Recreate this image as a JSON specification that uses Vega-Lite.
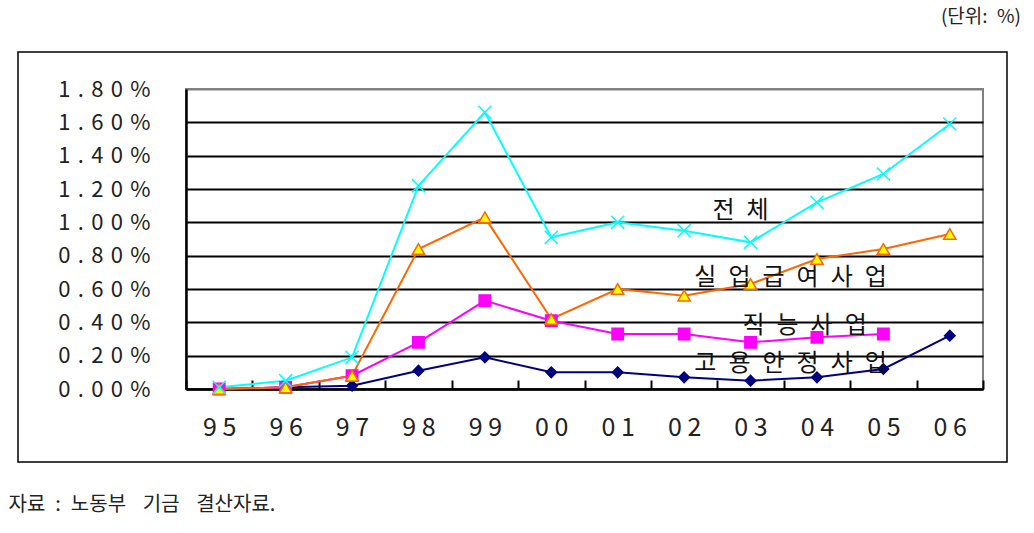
{
  "$schema": "https://vega.github.io/schema/vega-lite/v6.json",
  "width": 797,
  "height": 300,
  "autosize": {"type": "none"},
  "padding": {"left": 186, "top": 89, "right": 51, "bottom": 144},
  "background": "white",
  "config": {
    "view": {"stroke": "#808080", "strokeWidth": 2},
    "font": "Noto Sans CJK KR"
  },
  "title": {
    "text": "(단위:\u2002%)",
    "anchor": "end",
    "frame": "group",
    "fontSize": 19,
    "fontWeight": "normal",
    "color": "#222222",
    "dx": 38,
    "offset": 15,
    "baseline": "middle"
  },
  "data": {
    "values": [
      {"year": "95", "series": "고용안정사업", "value": 0.00},
      {"year": "96", "series": "고용안정사업", "value": 0.01},
      {"year": "97", "series": "고용안정사업", "value": 0.02},
      {"year": "98", "series": "고용안정사업", "value": 0.11},
      {"year": "99", "series": "고용안정사업", "value": 0.19},
      {"year": "00", "series": "고용안정사업", "value": 0.10},
      {"year": "01", "series": "고용안정사업", "value": 0.10},
      {"year": "02", "series": "고용안정사업", "value": 0.07},
      {"year": "03", "series": "고용안정사업", "value": 0.05},
      {"year": "04", "series": "고용안정사업", "value": 0.07},
      {"year": "05", "series": "고용안정사업", "value": 0.12},
      {"year": "06", "series": "고용안정사업", "value": 0.32},
      {"year": "95", "series": "직능사업", "value": 0.00},
      {"year": "96", "series": "직능사업", "value": 0.01},
      {"year": "97", "series": "직능사업", "value": 0.08},
      {"year": "98", "series": "직능사업", "value": 0.28},
      {"year": "99", "series": "직능사업", "value": 0.53},
      {"year": "00", "series": "직능사업", "value": 0.41},
      {"year": "01", "series": "직능사업", "value": 0.33},
      {"year": "02", "series": "직능사업", "value": 0.33},
      {"year": "03", "series": "직능사업", "value": 0.28},
      {"year": "04", "series": "직능사업", "value": 0.31},
      {"year": "05", "series": "직능사업", "value": 0.33},
      {"year": "95", "series": "실업급여사업", "value": 0.00},
      {"year": "96", "series": "실업급여사업", "value": 0.01},
      {"year": "97", "series": "실업급여사업", "value": 0.08},
      {"year": "98", "series": "실업급여사업", "value": 0.84},
      {"year": "99", "series": "실업급여사업", "value": 1.03},
      {"year": "00", "series": "실업급여사업", "value": 0.42},
      {"year": "01", "series": "실업급여사업", "value": 0.60},
      {"year": "02", "series": "실업급여사업", "value": 0.56},
      {"year": "03", "series": "실업급여사업", "value": 0.63},
      {"year": "04", "series": "실업급여사업", "value": 0.78},
      {"year": "05", "series": "실업급여사업", "value": 0.84},
      {"year": "06", "series": "실업급여사업", "value": 0.93},
      {"year": "95", "series": "전체", "value": 0.01},
      {"year": "96", "series": "전체", "value": 0.05},
      {"year": "97", "series": "전체", "value": 0.19},
      {"year": "98", "series": "전체", "value": 1.22},
      {"year": "99", "series": "전체", "value": 1.66},
      {"year": "00", "series": "전체", "value": 0.91},
      {"year": "01", "series": "전체", "value": 1.00},
      {"year": "02", "series": "전체", "value": 0.95},
      {"year": "03", "series": "전체", "value": 0.88},
      {"year": "04", "series": "전체", "value": 1.12},
      {"year": "05", "series": "전체", "value": 1.29},
      {"year": "06", "series": "전체", "value": 1.59}
    ]
  },
  "encoding": {
    "x": {
      "field": "year",
      "type": "ordinal",
      "scale": {
        "type": "band",
        "domain": ["95", "96", "97", "98", "99", "00", "01", "02", "03", "04", "05", "06"],
        "paddingInner": 0,
        "paddingOuter": 0
      },
      "axis": {
        "title": "자료\u2002:\u2002노동부\u2002\u2004기금\u2002\u2004결산자료.",
        "titleAnchor": "start",
        "titleAlign": "left",
        "titleX": -178,
        "titleY": 115,
        "titleBaseline": "middle",
        "titleFontSize": 20,
        "titleFontWeight": "normal",
        "titleColor": "#222222",
        "labelAngle": 0,
        "labelFontSize": 25,
        "labelColor": "#222222",
        "labelPadding": 35,
        "labelExpr": "join(split(datum.label,''),' ')",
        "tickBand": "extent",
        "tickSize": -9,
        "tickWidth": 2,
        "tickColor": "black",
        "domainColor": "black",
        "domainWidth": 2.5,
        "grid": false
      }
    },
    "y": {
      "field": "value",
      "type": "quantitative",
      "scale": {"domain": [0, 1.8]},
      "axis": {
        "title": null,
        "values": [0, 0.2, 0.4, 0.6, 0.8, 1.0, 1.2, 1.4, 1.6, 1.8],
        "labelExpr": "join(split(format(datum.value,'.2f')+'%',''),'\u2004')",
        "labelFontSize": 22,
        "labelColor": "#222222",
        "labelPadding": 36,
        "ticks": false,
        "domainColor": "black",
        "domainWidth": 2.5,
        "grid": true,
        "gridColor": {"condition": {"test": "datum.value >= 1.79", "value": "#808080"}, "value": "black"},
        "gridWidth": 1.8
      }
    }
  },
  "layer": [
    {
      "data": {"values": [{"box": "frame"}]},
      "mark": {"type": "rect", "fill": null, "stroke": "black", "strokeWidth": 1.5},
      "encoding": {
        "x": {"value": -168},
        "x2": {"value": 821},
        "y": {"value": -37},
        "y2": {"value": 373}
      }
    },
    {
      "mark": {"type": "line", "strokeWidth": 2},
      "encoding": {
        "stroke": {
          "field": "series",
          "type": "nominal",
          "scale": {
            "domain": ["고용안정사업", "직능사업", "실업급여사업", "전체"],
            "range": ["#000080", "#FF00FF", "#FF6600", "#00FFFF"]
          },
          "legend": null
        }
      }
    },
    {
      "mark": {"type": "point", "filled": true, "strokeWidth": 1.5, "opacity": 1},
      "encoding": {
        "shape": {
          "field": "series",
          "type": "nominal",
          "scale": {
            "domain": ["고용안정사업", "직능사업", "실업급여사업", "전체"],
            "range": ["diamond", "square", "triangle-up", "M-1,-1L1,1M-1,1L1,-1"]
          },
          "legend": null
        },
        "fill": {
          "field": "series",
          "type": "nominal",
          "scale": {
            "domain": ["고용안정사업", "직능사업", "실업급여사업", "전체"],
            "range": ["#000080", "#FF00FF", "#FFFF00", "transparent"]
          },
          "legend": null
        },
        "stroke": {
          "field": "series",
          "type": "nominal",
          "legend": null
        },
        "size": {
          "field": "series",
          "type": "nominal",
          "scale": {
            "domain": ["고용안정사업", "직능사업", "실업급여사업", "전체"],
            "range": [110, 170, 140, 160]
          },
          "legend": null
        }
      }
    },
    {
      "data": {"values": [{"year": "03", "value": 1.068, "label": "전\u2002체"}]},
      "mark": {"type": "text", "fontSize": 24, "color": "#111111", "baseline": "middle", "align": "center", "dx": -10},
      "encoding": {"text": {"field": "label"}}
    },
    {
      "data": {"values": [
        {"year": "03", "value": 0.666, "label": "실\u2002업\u2002급\u2002여\u2002사\u2002업"},
        {"year": "03", "value": 0.15, "label": "고\u2002용\u2002안\u2002정\u2002사\u2002업"}
      ]},
      "mark": {"type": "text", "fontSize": 24, "color": "#111111", "baseline": "middle", "align": "center", "dx": 40},
      "encoding": {"text": {"field": "label"}}
    },
    {
      "data": {"values": [{"year": "03", "value": 0.378, "label": "직\u2002능\u2002사\u2002업"}]},
      "mark": {"type": "text", "fontSize": 24, "color": "#111111", "baseline": "middle", "align": "center", "dx": 54},
      "encoding": {"text": {"field": "label"}}
    }
  ]
}
